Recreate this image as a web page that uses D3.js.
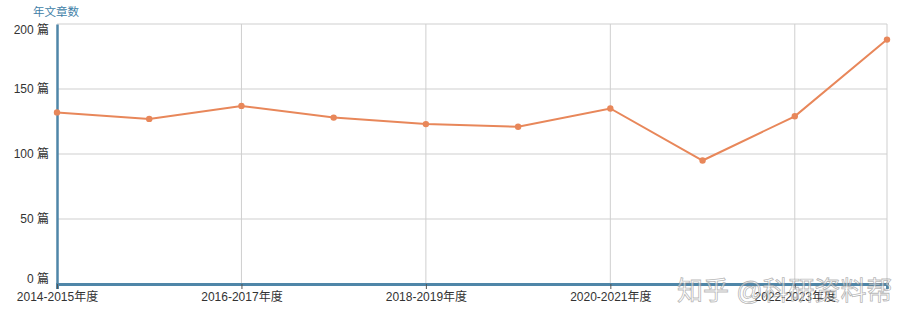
<!DOCTYPE html>
<html><head><meta charset="utf-8">
<script src="https://cdn.jsdelivr.net/npm/d3@7/dist/d3.min.js"></script>
<style>
body{margin:0;background:#fff;}
text{font-family:"Liberation Sans","Noto Sans CJK SC",Arial,sans-serif;}
</style></head>
<body><svg id="c" width="910" height="325"></svg>
<script>
const categories = ["2014-2015年度","2015-2016年度","2016-2017年度","2017-2018年度","2018-2019年度","2019-2020年度","2020-2021年度","2021-2022年度","2022-2023年度","2023-2024年度"];
const values = [132,127,137,128,123,121,135,95,129,188];
const yTicks = [0,50,100,150,200];
const shownLabels = ["2014-2015年度","2016-2017年度","2018-2019年度","2020-2021年度","2022-2023年度"];
const yTitle = "年文章数";
const unit = " 篇";
const watermark = "知乎 @科研资料帮";

const svg = d3.select("#c");
const m = {l:57, r:887, t:24, b:284};
const x = d3.scalePoint().domain(categories).range([m.l, m.r]);
const y = d3.scaleLinear().domain([0,200]).range([m.b, m.t]);

// horizontal grid
svg.append("g").selectAll("line").data(yTicks.filter(d=>d>0)).join("line")
  .attr("x1", m.l).attr("x2", m.r).attr("y1", d=>y(d)).attr("y2", d=>y(d))
  .attr("stroke","#cfcfcf").attr("stroke-width",1);
// vertical grid
svg.append("g").selectAll("line").data(shownLabels.slice(1).map(c=>x(c)).concat([m.r])).join("line")
  .attr("x1", d=>d).attr("x2", d=>d).attr("y1", m.t).attr("y2", m.b)
  .attr("stroke","#cfcfcf").attr("stroke-width",1);

// y axis
const ya = svg.append("g").attr("transform",`translate(${m.l},0)`)
  .call(d3.axisLeft(y).tickValues(yTicks).tickSize(0).tickPadding(8).tickFormat(d=>d+unit));
ya.select(".domain").attr("stroke","#4f86a8").attr("stroke-width",2.5);
ya.selectAll("text").attr("font-size","12px").attr("fill","#333")
  .attr("dy", d=> d===200 ? "0.75em" : d===0 ? "-0.15em" : "0.32em");

// x axis
const xa = svg.append("g").attr("transform",`translate(0,${m.b})`)
  .call(d3.axisBottom(x).tickValues(shownLabels).tickSize(5).tickPadding(3));
xa.select(".domain").attr("stroke","#4f86a8").attr("stroke-width",3);
xa.selectAll(".tick line").attr("stroke","#555");
xa.selectAll("text").attr("font-size","12px").attr("fill","#333");

// title
svg.append("text").attr("x",33).attr("y",16).attr("font-size","11.5px").attr("fill","#3f7fa8").text(yTitle);

// line
svg.append("path").datum(values)
  .attr("d", d3.line().x((d,i)=>x(categories[i])).y(d=>y(d)))
  .attr("fill","none").attr("stroke","#e8875a").attr("stroke-width",2);
svg.append("g").selectAll("circle").data(values).join("circle")
  .attr("cx",(d,i)=>x(categories[i])).attr("cy",d=>y(d)).attr("r",3.2).attr("fill","#e8875a");

// watermark
svg.append("text").attr("x",677).attr("y",300).attr("font-size","26px")
  .attr("fill","rgba(255,255,255,0.55)").attr("stroke","rgba(120,120,120,0.55)").attr("stroke-width",0.8)
  .text(watermark);
</script></body></html>
